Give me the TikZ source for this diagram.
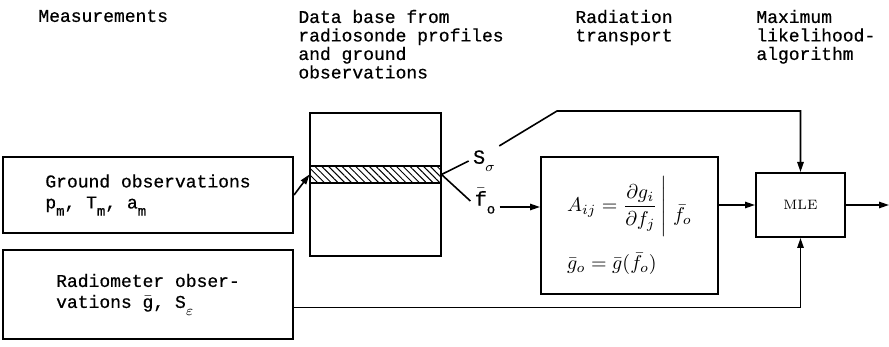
\documentclass[tikz,border=0pt]{standalone}
\usepackage{amsmath}
\usepackage{fontspec}
\newfontfamily\typewriter[FakeBold=0.6]{Liberation Mono}
\usetikzlibrary{arrows.meta,positioning,patterns.meta}
\newcommand\lowsub[1]{\raisebox{-0.4em}{\fontsize{7}{8}\selectfont #1}}

\begin{document}
\begin{tikzpicture}[
  x=0.5pt,y=-0.5pt,
  box/.style={rectangle,draw,line width=1pt,inner sep=0pt,align=left,
              font=\typewriter\fontsize{9}{10.5}\selectfont},
  head/.style={anchor=north west,inner sep=0pt,align=left,
               font=\typewriter\fontsize{9}{9.25}\selectfont},
  lbl/.style={inner sep=2pt,font=\typewriter\fontsize{10}{12}\selectfont},
  arr/.style={-{Triangle[length=5pt,width=3.2pt]},line width=0.8pt},
  conn/.style={line width=0.8pt}
]
  \useasboundingbox (0,0) rectangle (889,347);
  % column headings
  \node[head] (hmeas) at (38,9.5)  {Measurements};
  \node[head] (hdata) at (298,9.5) {Data base from\\radiosonde profiles\\and ground\\observations};
  \node[head] (hrad)  at (575,9.5) {Radiation\\transport};
  \node[head] (hmle)  at (756,9.5) {Maximum\\likelihood-\\algorithm};

  % measurement boxes
  \node[box,minimum width=145pt,minimum height=38pt] (gnd) at (148,195)
    {Ground observations\\p\lowsub{m}, T\lowsub{m}, a\lowsub{m}};
  \node[box,minimum width=145pt,minimum height=44.5pt] (rad) at (148,294.5)
    {Radiometer obser-\\vations $\bar{\text{g}}$, S\lowsub{$\varepsilon$}};

  % data base with the selected profile
  \node[box,minimum width=65.5pt,minimum height=71.5pt] (db) at (375.5,184.5) {};
  \node[draw,line width=1pt,minimum width=65.5pt,minimum height=8.5pt,inner sep=0pt,
        pattern={Lines[angle=-45,distance=2.4pt,line width=0.5pt]}] (band) at (375.5,174.5) {};
  \node[lbl] (sig) at (484,161) {S\lowsub{$\sigma$}};
  \node[lbl] (fo)  at (485,201) {$\bar{\text{f}}$\lowsub{o}};

  % radiation transport and MLE
  \node[box,minimum width=88.5pt,minimum height=68.5pt,font=\fontsize{10}{12}\selectfont] (rt) at (629.5,225.5)
    {$A_{ij} = \dfrac{\partial g_i}{\partial f_j}\,\Bigg|\;\raisebox{-5pt}{$\bar f_o$}$\\[7pt]
     $\bar g_o = \bar g(\bar f_o)$};
  \node[box,minimum width=44.5pt,minimum height=32pt,align=center,
        font=\rmfamily\fontsize{6.8}{8}\selectfont] (mle) at (800.5,205) {MLE};

  % connectors
  \coordinate (bend) at (557,111);
  \coordinate (out) at (889,205);
  \coordinate (foout) at ([yshift=-3pt]fo.east);
  \coordinate (radout) at ([yshift=-6.5pt]rad.east);
  \draw[arr] (gnd.east) -- (band.west);
  \draw[conn] (band.east) -- (sig.west);
  \draw[conn] (band.east) -- (fo.west);
  \draw[arr] (foout) -- (foout -| rt.west);
  \draw[arr] (sig.north east) -- (bend) -| (mle.north);
  \draw[arr] (rt.east |- mle.west) -- (mle.west);
  \draw[arr] (mle.east) -- (out);
  \draw[arr] (radout) -| (mle.south);
\end{tikzpicture}
\end{document}
